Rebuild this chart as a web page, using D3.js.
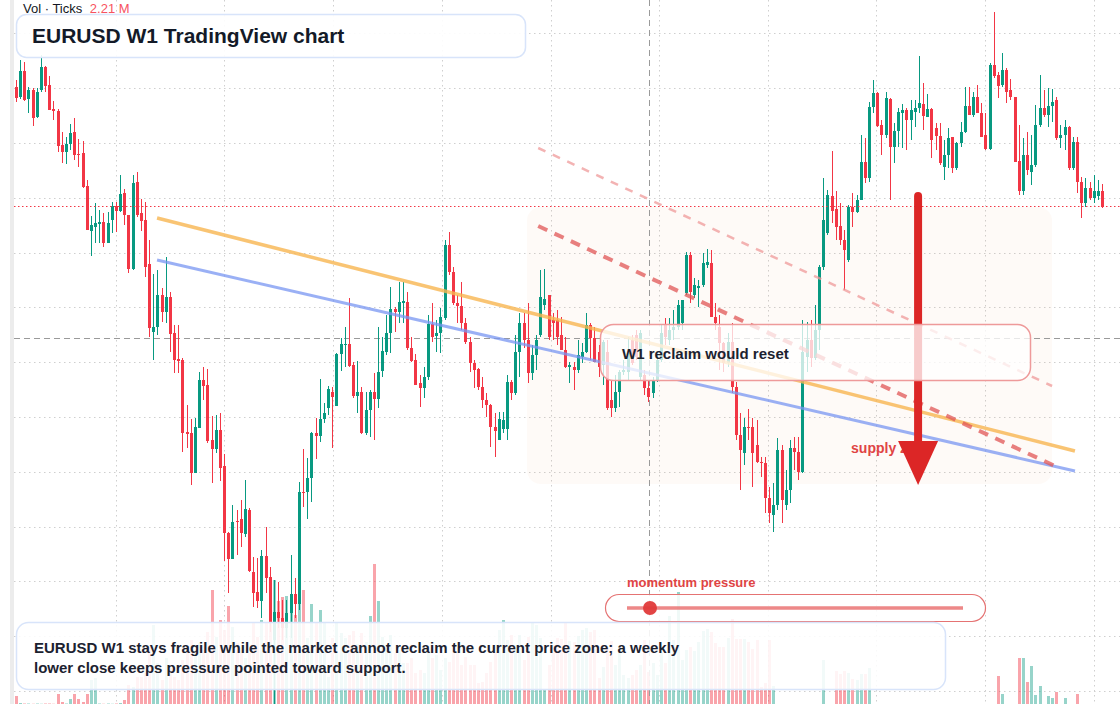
<!DOCTYPE html>
<html>
<head>
<meta charset="utf-8">
<script src="https://cdn.jsdelivr.net/npm/d3@7"></script>
<style>
  body { margin: 0; background: #fff; }
  svg { display: block; font-family: "Liberation Sans", Arial, sans-serif; }
</style>
</head>
<body>
<div id="chart"></div>
<script>
// EURUSD weekly candles, oldest first
var open = [
  1.2165, 1.2115, 1.2245, 1.2105, 1.2150, 1.2015, 1.2150, 1.2265, 1.2175, 1.2055,
  1.2045, 1.1875, 1.1840, 1.1880, 1.1940, 1.1830, 1.1835, 1.1670, 1.1445, 1.1465,
  1.1480, 1.1490, 1.1385, 1.1500, 1.1570, 1.1545, 1.1635, 1.1525, 1.1255, 1.1690,
  1.1535, 1.1500, 1.1280, 1.0940, 1.0965, 1.1125, 1.1040, 1.1115, 1.0935, 1.0805,
  1.0800, 1.0440, 1.0435, 1.0235, 1.0460, 1.0700, 1.0675, 1.0400, 1.0355, 1.0450,
  1.0270, 0.9935, 0.9805, 0.9995, 1.0005, 0.9930, 1.0050, 0.9740, 0.9640, 0.9595,
  0.9820, 0.9715, 0.9400, 0.9540, 0.9510, 0.9460, 0.9535, 0.9630, 0.9580, 1.0140,
  1.0140, 1.0210, 1.0435, 1.0420, 1.0505, 1.0560, 1.0640, 1.0570, 1.0830, 1.0875,
  1.0880, 1.0775, 1.0620, 1.0640, 1.0435, 1.0550, 1.0640, 1.0605, 1.0745, 1.0840,
  1.0935, 1.1055, 1.1040, 1.1085, 1.1090, 1.0860, 1.0800, 1.0685, 1.0660, 1.0715,
  1.0980, 1.0920, 1.0935, 1.1010, 1.1375, 1.1240, 1.1085, 1.1070, 1.0985, 1.0890,
  1.0785, 1.0755, 1.0665, 1.0600, 1.0575, 1.0465, 1.0400, 1.0455, 1.0455, 1.0690,
  1.0635, 1.0840, 1.0985, 1.0900, 1.0735, 1.0825, 1.0925, 1.1075, 1.1125, 1.1000,
  1.1000, 1.0925, 1.0850, 1.0765, 1.0765, 1.0750, 1.0815, 1.0840, 1.0975, 1.0910,
  1.0840, 1.0775, 1.0840, 1.0600, 1.0560, 1.0640, 1.0740, 1.0740, 1.0900, 1.0925,
  1.0715, 1.0725, 1.0660, 1.0635, 1.0700, 1.0800, 1.0975, 1.0900, 1.0950, 1.0965,
  1.0985, 1.1135, 1.1325, 1.1125, 1.1160, 1.1175, 1.1275, 1.1285, 1.1015, 1.0965,
  1.0885, 1.0785, 1.0890, 1.0665, 1.0425, 1.0335, 1.0465, 1.0465, 1.0375, 1.0290,
  1.0285, 1.0110, 1.0025, 1.0075, 1.0350, 1.0075, 1.0150, 1.0360, 1.0340, 1.0240,
  1.0815, 1.0900, 1.0810, 1.0950, 1.1265, 1.1435, 1.1620, 1.1555, 1.1470, 1.1400,
  1.1300, 1.1565, 1.1540, 1.1600, 1.1790, 1.1710, 1.2065, 1.2135, 1.1975, 1.1925,
  1.2105, 1.1865, 1.1945, 1.2035, 1.2050, 1.2000, 1.2040, 1.2060, 1.2080, 1.2015,
  1.2055, 1.1960, 1.1920, 1.1765, 1.1825, 1.1915, 1.1760, 1.1885, 1.1940, 1.2070,
  1.2025, 1.2115, 1.2035, 1.1925, 1.1855, 1.2275, 1.2225, 1.2175, 1.2250, 1.2150,
  1.2115, 1.1795, 1.1645, 1.1825, 1.1740, 1.1775, 1.1975, 1.2060, 1.2025, 1.2070,
  1.2100, 1.1910, 1.1925, 1.1965, 1.1760, 1.1890, 1.1690, 1.1585, 1.1660, 1.1610,
  1.1620, 1.1645
];
var high = [
  1.2200, 1.2300, 1.2290, 1.2165, 1.2160, 1.2160, 1.2325, 1.2270, 1.2220, 1.2095,
  1.2055, 1.1940, 1.1915, 1.1980, 1.2010, 1.1905, 1.1895, 1.1700, 1.1520, 1.1585,
  1.1550, 1.1535, 1.1540, 1.1590, 1.1590, 1.1725, 1.1655, 1.1525, 1.1725, 1.1740,
  1.1605, 1.1590, 1.1400, 1.1230, 1.1250, 1.1160, 1.1315, 1.1140, 1.0975, 1.0975,
  1.0810, 1.0575, 1.0505, 1.0510, 1.0740, 1.0765, 1.0755, 1.0520, 1.0525, 1.0535,
  1.0330, 0.9940, 1.0075, 1.0050, 1.0100, 1.0200, 1.0060, 0.9815, 0.9810, 0.9850,
  0.9965, 0.9765, 0.9700, 0.9690, 0.9600, 0.9600, 0.9825, 0.9710, 1.0190, 1.0355,
  1.0310, 1.0440, 1.0510, 1.0705, 1.0585, 1.0670, 1.0665, 1.0835, 1.0910, 1.0965,
  1.1110, 1.0790, 1.0795, 1.0665, 1.0640, 1.0650, 1.0735, 1.0965, 1.0915, 1.1025,
  1.1165, 1.1065, 1.1190, 1.1190, 1.1140, 1.0915, 1.0830, 1.0725, 1.0765, 1.1025,
  1.1085, 1.1000, 1.1060, 1.1400, 1.1440, 1.1265, 1.1125, 1.1190, 1.1010, 1.0915,
  1.0800, 1.0760, 1.0715, 1.0635, 1.0580, 1.0535, 1.0540, 1.0540, 1.0725, 1.0700,
  1.0925, 1.1035, 1.1035, 1.1085, 1.0875, 1.0925, 1.1250, 1.1255, 1.1125, 1.1035,
  1.1050, 1.1015, 1.0915, 1.0790, 1.0790, 1.0900, 1.0885, 1.1035, 1.0985, 1.0965,
  1.0875, 1.0900, 1.0900, 1.0700, 1.0725, 1.0750, 1.0800, 1.0915, 1.0925, 1.0950,
  1.0950, 1.0750, 1.0700, 1.0715, 1.0825, 1.0975, 1.1010, 1.1010, 1.1050, 1.1100,
  1.1100, 1.1340, 1.1340, 1.1210, 1.1200, 1.1335, 1.1355, 1.1350, 1.1085, 1.1025,
  1.0890, 1.0935, 1.0985, 1.0690, 1.0535, 1.0510, 1.0555, 1.0510, 1.0500, 1.0315,
  1.0315, 1.0165, 1.0185, 1.0410, 1.0375, 1.0250, 1.0400, 1.0415, 1.0415, 1.1000,
  1.0990, 1.1000, 1.1075, 1.1275, 1.1710, 1.1650, 1.1845, 1.1645, 1.1585, 1.1450,
  1.1575, 1.1635, 1.1625, 1.1925, 1.1910, 1.2090, 1.2200, 1.2140, 1.2000, 1.2140,
  1.2110, 1.1985, 1.2060, 1.2080, 1.2060, 1.2100, 1.2100, 1.2320, 1.2185, 1.2130,
  1.2060, 1.1985, 1.1985, 1.1900, 1.1960, 1.1915, 1.1890, 1.1990, 1.2165, 1.2165,
  1.2140, 1.2175, 1.2085, 1.2035, 1.2285, 1.2540, 1.2240, 1.2335, 1.2260, 1.2205,
  1.2115, 1.1975, 1.1910, 1.1940, 1.1925, 1.2075, 1.2225, 1.2150, 1.2160, 1.2155,
  1.2115, 1.1975, 1.2000, 1.1970, 1.1915, 1.1915, 1.1715, 1.1710, 1.1690, 1.1725,
  1.1700, 1.1680
];
var low = [
  1.2090, 1.2105, 1.2095, 1.2035, 1.1970, 1.2010, 1.2140, 1.2140, 1.2050, 1.2000,
  1.1840, 1.1785, 1.1780, 1.1850, 1.1800, 1.1765, 1.1660, 1.1450, 1.1320, 1.1385,
  1.1385, 1.1365, 1.1385, 1.1435, 1.1440, 1.1540, 1.1475, 1.1235, 1.1250, 1.1515,
  1.1445, 1.1215, 1.0915, 1.0800, 1.0925, 1.0990, 1.0985, 1.0840, 1.0735, 1.0735,
  1.0340, 1.0360, 1.0175, 1.0235, 1.0460, 1.0600, 1.0385, 1.0185, 1.0335, 1.0195,
  0.9795, 0.9635, 0.9805, 0.9825, 0.9865, 0.9915, 0.9740, 0.9565, 0.9560, 0.9510,
  0.9635, 0.9440, 0.9040, 0.9460, 0.9400, 0.9410, 0.9410, 0.9510, 0.9550, 1.0065,
  1.0005, 1.0090, 1.0305, 1.0390, 1.0485, 1.0525, 1.0360, 1.0570, 1.0745, 1.0765,
  1.0765, 1.0610, 1.0535, 1.0430, 1.0425, 1.0415, 1.0400, 1.0560, 1.0715, 1.0825,
  1.0835, 1.0940, 1.0985, 1.0985, 1.0850, 1.0790, 1.0675, 1.0565, 1.0610, 1.0700,
  1.0890, 1.0840, 1.0835, 1.1000, 1.1225, 1.1075, 1.0985, 1.0950, 1.0880, 1.0740,
  1.0660, 1.0650, 1.0560, 1.0515, 1.0365, 1.0315, 1.0400, 1.0435, 1.0400, 1.0600,
  1.0625, 1.0715, 1.0860, 1.0685, 1.0700, 1.0750, 1.0915, 1.1050, 1.0900, 1.0900,
  1.0875, 1.0850, 1.0760, 1.0685, 1.0650, 1.0735, 1.0785, 1.0835, 1.0800, 1.0790,
  1.0715, 1.0675, 1.0550, 1.0515, 1.0540, 1.0565, 1.0725, 1.0700, 1.0775, 1.0800,
  1.0700, 1.0625, 1.0590, 1.0610, 1.0690, 1.0790, 1.0875, 1.0875, 1.0900, 1.0950,
  1.0950, 1.1125, 1.1085, 1.1110, 1.1065, 1.1165, 1.1260, 1.1015, 1.0950, 1.0750,
  1.0740, 1.0765, 1.0635, 1.0400, 1.0150, 1.0275, 1.0400, 1.0165, 1.0285, 1.0215,
  1.0035, 0.9985, 0.9940, 1.0050, 0.9985, 1.0050, 1.0085, 1.0250, 1.0200, 1.0235,
  1.0740, 1.0765, 1.0800, 1.0850, 1.1250, 1.1425, 1.1485, 1.1400, 1.1375, 1.1150,
  1.1290, 1.1465, 1.1535, 1.1600, 1.1685, 1.1690, 1.2035, 1.1965, 1.1825, 1.1910,
  1.1600, 1.1785, 1.1865, 1.1860, 1.1850, 1.1900, 1.1965, 1.2035, 1.1950, 1.2015,
  1.1810, 1.1850, 1.1775, 1.1700, 1.1760, 1.1735, 1.1750, 1.1865, 1.1935, 1.2025,
  1.2015, 1.2035, 1.1915, 1.1850, 1.1850, 1.2210, 1.2110, 1.2165, 1.2085, 1.2100,
  1.1790, 1.1625, 1.1625, 1.1725, 1.1675, 1.1765, 1.1965, 1.2015, 1.1965, 1.1990,
  1.1900, 1.1860, 1.1850, 1.1750, 1.1750, 1.1635, 1.1510, 1.1565, 1.1600, 1.1585,
  1.1600, 1.1560
];
var close = [
  1.2110, 1.2245, 1.2100, 1.2150, 1.2010, 1.2140, 1.2265, 1.2170, 1.2050, 1.2045,
  1.1870, 1.1840, 1.1880, 1.1935, 1.1825, 1.1825, 1.1665, 1.1450, 1.1475, 1.1485,
  1.1490, 1.1385, 1.1485, 1.1570, 1.1545, 1.1630, 1.1525, 1.1255, 1.1685, 1.1525,
  1.1495, 1.1265, 1.0960, 1.0965, 1.1125, 1.1040, 1.1115, 1.0930, 1.0800, 1.0795,
  1.0435, 1.0430, 1.0235, 1.0465, 1.0700, 1.0670, 1.0395, 1.0355, 1.0450, 1.0260,
  0.9935, 0.9805, 0.9990, 0.9990, 0.9935, 1.0055, 0.9745, 0.9635, 0.9595, 0.9820,
  0.9710, 0.9490, 0.9540, 0.9510, 0.9460, 0.9535, 0.9630, 0.9580, 1.0140, 1.0135,
  1.0210, 1.0435, 1.0420, 1.0505, 1.0535, 1.0655, 1.0615, 1.0830, 1.0880, 1.0880,
  1.0770, 1.0620, 1.0640, 1.0435, 1.0550, 1.0640, 1.0605, 1.0740, 1.0845, 1.0935,
  1.1055, 1.1040, 1.1090, 1.1095, 1.0860, 1.0795, 1.0675, 1.0660, 1.0715, 1.0980,
  1.0915, 1.0935, 1.1015, 1.1375, 1.1240, 1.1085, 1.1070, 1.0985, 1.0890, 1.0785,
  1.0750, 1.0665, 1.0600, 1.0575, 1.0465, 1.0445, 1.0505, 1.0500, 1.0690, 1.0635,
  1.0840, 1.0985, 1.0900, 1.0735, 1.0825, 1.0900, 1.1115, 1.1105, 1.0915, 1.0985,
  1.0915, 1.0850, 1.0765, 1.0775, 1.0750, 1.0825, 1.0840, 1.0975, 1.0910, 1.0790,
  1.0765, 1.0890, 1.0560, 1.0560, 1.0640, 1.0740, 1.0750, 1.0835, 1.0785, 1.0815,
  1.0935, 1.0660, 1.0615, 1.0700, 1.0800, 1.0935, 1.0915, 1.0950, 1.0965, 1.1075,
  1.1100, 1.1325, 1.1140, 1.1175, 1.1170, 1.1285, 1.1290, 1.1015, 1.0985, 1.0885,
  1.0785, 1.0890, 1.0665, 1.0425, 1.0350, 1.0465, 1.0460, 1.0335, 1.0290, 1.0285,
  1.0110, 1.0035, 1.0075, 1.0350, 1.0100, 1.0150, 1.0360, 1.0340, 1.0240, 1.0840,
  1.0900, 1.0810, 1.0950, 1.1265, 1.1500, 1.1625, 1.1545, 1.1465, 1.1400, 1.1350,
  1.1565, 1.1540, 1.1600, 1.1790, 1.1710, 1.2065, 1.2135, 1.1970, 1.1925, 1.2110,
  1.1865, 1.1945, 1.2040, 1.2050, 1.2000, 1.2050, 1.2060, 1.2085, 1.2020, 1.2055,
  1.1900, 1.1920, 1.1785, 1.1825, 1.1910, 1.1760, 1.1885, 1.1940, 1.2070, 1.2025,
  1.2115, 1.2035, 1.1915, 1.1855, 1.2275, 1.2220, 1.2170, 1.2250, 1.2140, 1.2115,
  1.1790, 1.1645, 1.1825, 1.1750, 1.1775, 1.1975, 1.2060, 1.2025, 1.2070, 1.2090,
  1.1910, 1.1925, 1.1965, 1.1760, 1.1890, 1.1690, 1.1585, 1.1660, 1.1610, 1.1645,
  1.1645, 1.1565
];
// tick volume (thousands)
var volume = [
  160, 20, 10, 10, 5, 10, 5, 10, 10, 5,
  200, 40, 10, 100, 200, 100, 40, 200, 480, 520,
  10, 5, 10, 5, 10, 20, 80, 380, 340, 540,
  540, 620, 1140, 1580, 820, 480, 920, 720, 540, 480,
  880, 1080, 1280, 1020, 1220, 1080, 1440, 2280, 1340, 1680,
  1480, 1960, 1540, 1220, 1080, 920, 1020, 1640, 1340, 1680,
  1640, 1680, 2480, 2060, 2140, 2160, 1920, 1780, 2020, 2280,
  1320, 2000, 1620, 1880, 1620, 540, 1320, 1620, 1420, 1320,
  1380, 1460, 1200, 1420, 1240, 1760, 2800, 2060, 1340, 1140,
  1380, 1020, 1080, 820, 820, 920, 620, 680, 620, 1040,
  920, 980, 680, 920, 840, 1080, 1020, 780, 940, 780,
  780, 420, 440, 620, 840, 1040, 1480, 1680, 1280, 1380,
  1180, 1380, 880, 1340, 1620, 1580, 1320, 280, 780, 1180,
  1320, 1300, 1640, 1260, 1240, 1360, 1480, 1520, 1440, 1480,
  520, 740, 1120, 1260, 780, 1120, 580, 520, 580, 680,
  780, 1280, 640, 820, 580, 1040, 820, 1760, 1280, 2240,
  880, 1080, 1140, 1060, 1240, 1460, 1500, 1440, 1220, 1140,
  1140, 1320, 1700, 1300, 1300, 1300, 1240, 1100, 1280, 340,
  420, 1280, 360, 0, 0, 0, 0, 0, 0, 0,
  0, 0, 0, 0, 880, 0, 0, 660, 600, 660,
  620, 500, 480, 600, 600, 720, 0, 0, 0, 0,
  0, 0, 0, 0, 0, 0, 0, 0, 0, 0,
  0, 0, 0, 0, 0, 0, 0, 0, 0, 0,
  0, 0, 0, 0, 0, 0, 560, 200, 0, 0,
  0, 920, 920, 440, 760, 180, 360, 0, 160, 120,
  240, 0, 120, 0, 0, 200, 0, 0, 0, 0,
  0, 0
];

// chart furniture, in data space
var gridPrices = [1.2433, 1.2159, 1.1885, 1.1611, 1.1337, 1.1063, 1.0789, 1.0515, 1.0241, 0.9967, 0.9693, 0.9419, 0.9145];
var gridWeeks = [24, 50.1, 76.2, 102.4, 128.5, 154.6, 180.7, 206.8, 233, 259.1];
var crossWeek = 152.1, crossPrice = 1.0910;
var orangeLine = [[33.9, 1.1510], [254.5, 1.0345]];
var blueLine = [[33.9, 1.1300], [254.5, 1.0245]];
var redDash = [[125.5, 1.1470], [249.7, 1.0270]];
var paleDash = [[125.5, 1.1860], [249.0, 1.0670]];
var zoneWeeks = [122.8, 249.0], zonePrices = [1.1565, 1.0180];
var arrowWeek = 216.8, arrowPrices = [1.1620, 1.0395, 1.0175];

var W = 1120, H = 704;
var N = close.length;

var svg = d3.select("#chart").append("svg")
  .attr("width", W)
  .attr("height", H);

var x = d3.scaleLinear().domain([0, N - 1]).range([16, 1102]);
var y = d3.scaleLinear().domain([0.9, 1.26]).range([720, 0]);
var yVol = d3.scaleLinear().domain([0, 3000]).range([704, 554]);

var UP = "#089981", DOWN = "#f23645";

// left edge strip
svg.append("rect").attr("x", 10).attr("y", 0).attr("width", 4).attr("height", H).attr("fill", "#ececec");

// grid
svg.append("g").selectAll("line").data(gridPrices).enter().append("line")
  .attr("x1", 14).attr("x2", W)
  .attr("y1", d => Math.round(y(d)) + 0.5).attr("y2", d => Math.round(y(d)) + 0.5)
  .attr("stroke", "#cfcfcf").attr("stroke-dasharray", "1.5 3.5");
svg.append("g").selectAll("line").data(gridWeeks).enter().append("line")
  .attr("x1", d => Math.round(x(d)) + 0.5).attr("x2", d => Math.round(x(d)) + 0.5)
  .attr("y1", 0).attr("y2", H)
  .attr("stroke", "#cfcfcf").attr("stroke-dasharray", "1.5 3.5");

// supply zone shading
svg.append("rect")
  .attr("x", x(zoneWeeks[0])).attr("y", y(zonePrices[0]))
  .attr("width", x(zoneWeeks[1]) - x(zoneWeeks[0]))
  .attr("height", y(zonePrices[1]) - y(zonePrices[0]))
  .attr("rx", 14)
  .attr("fill", "#f5a26b").attr("fill-opacity", 0.05);

// volume
var idx = d3.range(N);
svg.append("g").selectAll("rect").data(idx).enter().append("rect")
  .attr("x", i => Math.round(x(i)) - 1)
  .attr("y", i => yVol(volume[i]))
  .attr("width", 3)
  .attr("height", i => yVol(0) - yVol(volume[i]))
  .attr("fill", i => close[i] >= open[i] ? UP : DOWN)
  .attr("fill-opacity", i => close[i] >= open[i] ? 0.42 : 0.45);

// crosshair
svg.append("line")
  .attr("x1", 14).attr("x2", W)
  .attr("y1", Math.round(y(crossPrice)) + 0.5).attr("y2", Math.round(y(crossPrice)) + 0.5)
  .attr("stroke", "#9a9a9a").attr("stroke-dasharray", "6 4");
svg.append("line")
  .attr("x1", Math.round(x(crossWeek)) + 0.5).attr("x2", Math.round(x(crossWeek)) + 0.5)
  .attr("y1", 0).attr("y2", H)
  .attr("stroke", "#9a9a9a").attr("stroke-dasharray", "6 4");

// candles
var candles = svg.append("g").selectAll("g").data(idx).enter().append("g");
candles.append("line")
  .attr("x1", i => Math.round(x(i)) + 0.5).attr("x2", i => Math.round(x(i)) + 0.5)
  .attr("y1", i => y(high[i])).attr("y2", i => y(low[i]))
  .attr("stroke", i => close[i] >= open[i] ? UP : DOWN)
  .attr("stroke-width", 1);
candles.append("rect")
  .attr("x", i => Math.round(x(i)) - 1)
  .attr("y", i => y(Math.max(open[i], close[i])))
  .attr("width", 3)
  .attr("height", i => Math.max(1, Math.abs(y(open[i]) - y(close[i]))))
  .attr("fill", i => close[i] >= open[i] ? UP : DOWN);

// last price line
svg.append("line")
  .attr("x1", 14).attr("x2", W)
  .attr("y1", Math.round(y(close[N - 1])) - 0.5).attr("y2", Math.round(y(close[N - 1])) - 0.5)
  .attr("stroke", DOWN).attr("stroke-dasharray", "1.5 2.5");

// trend lines
var seg = d3.line().x(d => x(d[0])).y(d => y(d[1]));
svg.append("path").attr("d", seg(paleDash)).attr("fill", "none")
  .attr("stroke", "#ef9a9a").attr("stroke-opacity", 0.75).attr("stroke-width", 2.5).attr("stroke-dasharray", "8 8");
svg.append("path").attr("d", seg(orangeLine)).attr("fill", "none")
  .attr("stroke", "#f7b550").attr("stroke-opacity", 0.8).attr("stroke-width", 3.5);
svg.append("path").attr("d", seg(blueLine)).attr("fill", "none")
  .attr("stroke", "#7896f2").attr("stroke-opacity", 0.75).attr("stroke-width", 3);
svg.append("path").attr("d", seg(redDash)).attr("fill", "none")
  .attr("stroke", "#e05555").attr("stroke-opacity", 0.75).attr("stroke-width", 4).attr("stroke-dasharray", "10 8");

// supply zone label + arrow
var ax = x(arrowWeek);
svg.append("text").attr("x", ax - 67).attr("y", 453)
  .attr("font-size", 14).attr("font-weight", "bold").attr("fill", "#e04444")
  .text("supply zone");
svg.append("line")
  .attr("x1", ax).attr("x2", ax)
  .attr("y1", y(arrowPrices[0])).attr("y2", y(arrowPrices[1]))
  .attr("stroke", "#dc2626").attr("stroke-width", 8).attr("stroke-linecap", "round");
svg.append("path")
  .attr("d", d3.line()([[ax - 20, y(arrowPrices[1])], [ax + 20, y(arrowPrices[1])], [ax, y(arrowPrices[2])]]) + "Z")
  .attr("fill", "#dc2626");

// reclaim box
svg.append("rect").attr("x", 600.5).attr("y", 324.5).attr("width", 430).attr("height", 56).attr("rx", 13)
  .attr("fill", "#fff").attr("fill-opacity", 0.76)
  .attr("stroke", "#ee9a9a").attr("stroke-width", 1.5);
svg.append("text").attr("x", 622).attr("y", 359)
  .attr("font-size", 15).attr("font-weight", "bold").attr("fill", "#1c2230")
  .text("W1 reclaim would reset");

// momentum gauge
svg.append("text").attr("x", 627).attr("y", 587)
  .attr("font-size", 13).attr("font-weight", "bold").attr("fill", "#e04444")
  .text("momentum pressure");
svg.append("rect").attr("x", 605.5).attr("y", 594.5).attr("width", 380).attr("height", 27).attr("rx", 13.5)
  .attr("fill", "#fff").attr("fill-opacity", 0.85)
  .attr("stroke", "#e57373").attr("stroke-width", 1.2);
svg.append("line").attr("x1", 627).attr("x2", 963).attr("y1", 608).attr("y2", 608)
  .attr("stroke", "#e86a6a").attr("stroke-opacity", 0.8).attr("stroke-width", 3.5);
svg.append("circle").attr("cx", 650).attr("cy", 608).attr("r", 7)
  .attr("fill", "#e03a3a").attr("fill-opacity", 0.95);

// title box
svg.append("rect").attr("x", 16.5).attr("y", 14.5).attr("width", 509).attr("height", 43).attr("rx", 10)
  .attr("fill", "#fff").attr("fill-opacity", 0.92)
  .attr("stroke", "#d8e4fa").attr("stroke-width", 1.5);
svg.append("text").attr("x", 32).attr("y", 43)
  .attr("font-size", 21).attr("font-weight", "bold").attr("fill", "#131a28")
  .text("EURUSD W1 TradingView chart");

// volume legend
var vl = svg.append("text").attr("x", 23).attr("y", 13).attr("font-size", 13);
vl.append("tspan").attr("fill", "#131722").text("Vol · Ticks ");
vl.append("tspan").attr("dx", 4).attr("fill", "#f7525f").text("2.21 M");

// commentary box
svg.append("rect").attr("x", 16.5).attr("y", 622.5).attr("width", 929).attr("height", 67).attr("rx", 12)
  .attr("fill", "#fff").attr("fill-opacity", 0.88)
  .attr("stroke", "#d8e4fa").attr("stroke-width", 1.5);
var note = svg.append("text").attr("font-size", 15).attr("font-weight", "bold").attr("fill", "#1c2230");
note.append("tspan").attr("x", 34).attr("y", 653)
  .text("EURUSD W1 stays fragile while the market cannot reclaim the current price zone; a weekly");
note.append("tspan").attr("x", 34).attr("y", 673)
  .text("lower close keeps pressure pointed toward support.");
</script>
</body>
</html>
